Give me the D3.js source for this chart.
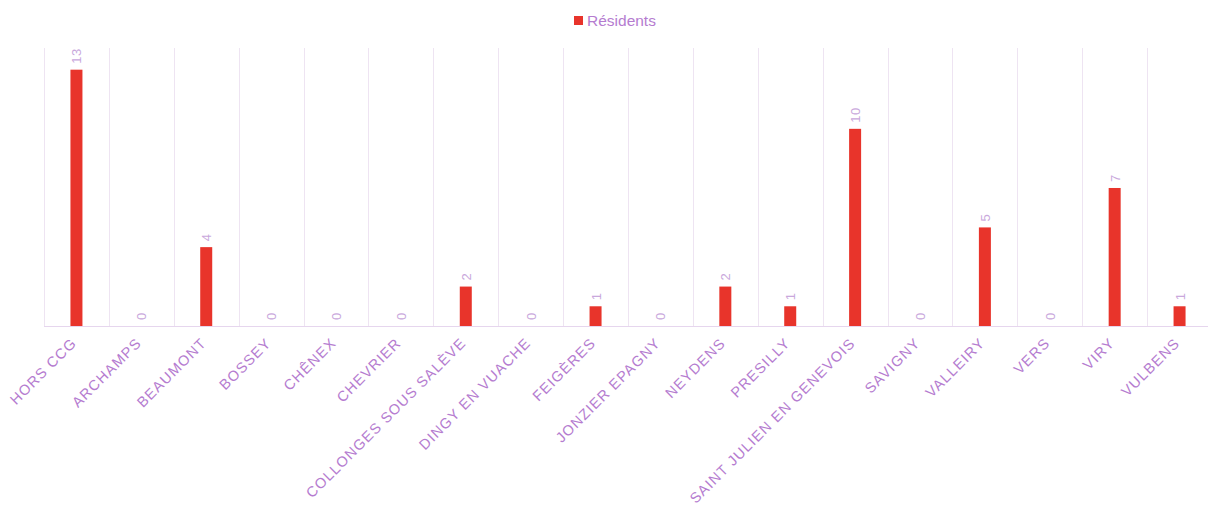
<!DOCTYPE html>
<html>
  <head>
    <meta charset="utf-8">
    <title>Résidents par commune</title>
    <script src="https://d3js.org/d3.v7.min.js"></script>
    <style>
      body { margin: 0; background: #fff; font-family: "Liberation Sans", Arial, sans-serif; }
    </style>
  </head>
  <body>
    <div id="chart"></div>
    <script>
      // data
      var communes = ["HORS CCG", "ARCHAMPS", "BEAUMONT", "BOSSEY", "CHÊNEX", "CHEVRIER",
        "COLLONGES SOUS SALÈVE", "DINGY EN VUACHE", "FEIGÈRES", "JONZIER EPAGNY", "NEYDENS",
        "PRESILLY", "SAINT JULIEN EN GENEVOIS", "SAVIGNY", "VALLEIRY", "VERS", "VIRY", "VULBENS"];
      var residents = [13, 0, 4, 0, 0, 0, 2, 0, 1, 0, 2, 1, 10, 0, 5, 0, 7, 1];
      var seriesName = "Résidents";

      var W = 1208, H = 509;
      var m = {top: 48, left: 44, bottom: 183};
      var innerW = 1168, innerH = H - m.top - m.bottom;

      var svg = d3.select("#chart").append("svg")
        .attr("width", W).attr("height", H);
      var g = svg.append("g").attr("transform", "translate(" + m.left + "," + m.top + ")");

      var x = d3.scaleBand().domain(communes).range([0, innerW]);
      var y = d3.scaleLinear().domain([0, 14.1]).range([innerH, 0]);

      // vertical grid lines at band edges
      var edges = communes.map(function(c) { return x(c); });
      g.selectAll(".grid").data(edges).enter().append("line")
        .attr("x1", function(d) { return Math.round(d) + 0.5; })
        .attr("x2", function(d) { return Math.round(d) + 0.5; })
        .attr("y1", 0).attr("y2", innerH)
        .attr("stroke", "#eee4f2").attr("stroke-width", 1);

      // baseline
      g.append("line")
        .attr("x1", 0).attr("x2", innerW)
        .attr("y1", innerH + 0.5).attr("y2", innerH + 0.5)
        .attr("stroke", "#e6d6ee");

      // bars
      var barW = 12;
      g.selectAll(".bar").data(residents).enter().append("rect")
        .attr("x", function(d, i) { return x(communes[i]) + x.bandwidth() / 2 - barW / 2; })
        .attr("y", function(d) { return y(d); })
        .attr("width", barW)
        .attr("height", function(d) { return innerH - y(d); })
        .attr("fill", "#e8342b");

      // value labels
      g.selectAll(".val").data(residents).enter().append("text")
        .attr("transform", function(d, i) {
          var cx = x(communes[i]) + x.bandwidth() / 2 + 5;
          return "translate(" + cx + "," + (y(d) - 6) + ") rotate(-90)";
        })
        .attr("font-size", 13)
        .attr("letter-spacing", 0.5)
        .attr("fill", "#c9a8dc")
        .text(function(d) { return d; });

      // x axis labels
      g.selectAll(".lab").data(communes).enter().append("text")
        .attr("transform", function(d) {
          var cx = x(d) + x.bandwidth() / 2 + 1;
          return "translate(" + cx + "," + (innerH + 18) + ") rotate(-45)";
        })
        .attr("text-anchor", "end")
        .attr("font-size", 14.5)
        .attr("letter-spacing", 1.1)
        .attr("fill", "#b57cd0")
        .text(function(d) { return d; });

      // legend
      var lg = svg.append("g").attr("transform", "translate(574,14)");
      lg.append("rect").attr("width", 9).attr("height", 9).attr("y", 2).attr("fill", "#e8342b");
      lg.append("text").attr("x", 13).attr("y", 12)
        .attr("font-size", 15.5).attr("fill", "#b57cd0").text(seriesName);
    </script>
  </body>
</html>
